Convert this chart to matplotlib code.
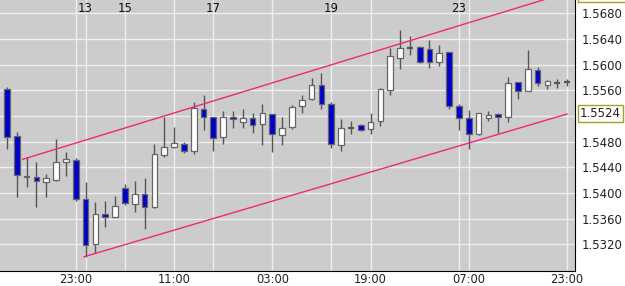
import matplotlib
matplotlib.use("Agg")
import matplotlib.pyplot as plt
from matplotlib.lines import Line2D
import numpy as np

opens = [1.55616, 1.54888, 1.54262, 1.54254, 1.54166, 1.54207, 1.54488, 1.54509, 1.53911, 1.53205,
         1.53668, 1.53621, 1.54082, 1.53828, 1.53984, 1.53786, 1.54597, 1.54717, 1.54763, 1.54659,
         1.55304, 1.55179, 1.54872, 1.55179, 1.55106, 1.55173, 1.55070, 1.55226, 1.54899, 1.55024,
         1.55355, 1.55460, 1.55683, 1.55382, 1.54748, 1.55017, 1.55055, 1.54992, 1.55122, 1.55605,
         1.56108, 1.56260, 1.56280, 1.56239, 1.56046, 1.56192, 1.55360, 1.55173, 1.54919, 1.55173,
         1.55226, 1.55189, 1.55725, 1.55589, 1.55916, 1.55683, 1.55719, 1.55725]
highs = [1.55644, 1.54955, 1.54556, 1.54483, 1.54296, 1.54837, 1.54643, 1.54540, 1.54166, 1.53855,
         1.53880, 1.53953, 1.54140, 1.54187, 1.54238, 1.54759, 1.55189, 1.55024, 1.54799, 1.55422,
         1.55522, 1.55184, 1.55278, 1.55278, 1.55304, 1.55242, 1.55387, 1.55231, 1.55179, 1.55371,
         1.55527, 1.55796, 1.55865, 1.55413, 1.55148, 1.55126, 1.55070, 1.55251, 1.55641, 1.56264,
         1.56540, 1.56446, 1.56290, 1.56384, 1.56306, 1.56202, 1.55387, 1.55293, 1.55251, 1.55282,
         1.55251, 1.55803, 1.55729, 1.56228, 1.55959, 1.55761, 1.55776, 1.55776]
lows = [1.54681, 1.53933, 1.54098, 1.53777, 1.53942, 1.54187, 1.54265, 1.53880, 1.53007, 1.53060,
        1.53465, 1.53620, 1.53808, 1.53704, 1.53443, 1.53771, 1.54561, 1.54706, 1.54628, 1.54607,
        1.54982, 1.54659, 1.54763, 1.55017, 1.55013, 1.54939, 1.54743, 1.54643, 1.54743, 1.54992,
        1.55251, 1.55449, 1.55313, 1.54696, 1.54659, 1.54919, 1.54966, 1.54914, 1.55048, 1.55527,
        1.55927, 1.56150, 1.56021, 1.55952, 1.55983, 1.55304, 1.54982, 1.54685, 1.54903, 1.55122,
        1.54930, 1.55111, 1.55465, 1.55584, 1.55672, 1.55620, 1.55641, 1.55672]
closes = [1.54868, 1.54276, 1.54246, 1.54187, 1.54229, 1.54483, 1.54525, 1.53906, 1.53185, 1.53668,
          1.53621, 1.53797, 1.53849, 1.53984, 1.53777, 1.54612, 1.54717, 1.54784, 1.54659, 1.55320,
          1.55179, 1.54861, 1.55189, 1.55153, 1.55173, 1.55059, 1.55242, 1.54919, 1.55008, 1.55335,
          1.55449, 1.55678, 1.55382, 1.54763, 1.55017, 1.55017, 1.54982, 1.55111, 1.55625, 1.56135,
          1.56255, 1.56260, 1.56046, 1.56046, 1.56177, 1.55360, 1.55173, 1.54919, 1.55242, 1.55211,
          1.55179, 1.55719, 1.55589, 1.55927, 1.55709, 1.55745, 1.55719, 1.55725]

bottom_tick_pos = [7, 17, 27, 37, 47, 57]
bottom_tick_labels = ["23:00", "11:00", "03:00", "19:00", "07:00", "23:00"]
top_tick_pos = [8, 12, 21, 33, 46]
top_tick_labels = ["13", "15", "17", "19", "23"]
price_ticks = [1.5320, 1.5360, 1.5400, 1.5440, 1.5480, 1.5520, 1.5560, 1.5600, 1.5640, 1.5680]
price_labels = ["1.5320", "1.5360", "1.5400", "1.5440", "1.5480", "", "1.5560", "1.5600", "1.5640", "1.5680"]
last_price = 1.5524

upper_x = [1.6, 57.0]
upper_y = [1.54525, 1.57122]
lower_x = [7.84, 57.0]
lower_y = [1.53007, 1.55231]

fig = plt.figure(figsize=(6.25, 2.86), dpi=100)
ax = fig.add_axes([0, 15/286, 575/625, 271/286])
ax.set_facecolor("#cccccc")

n = len(opens)
x = np.arange(n)
ax.set_xlim(-0.712, 57.81)
ax.set_ylim(1.52785, 1.57007)

# grid
for p in price_ticks:
    ax.axhline(p, color="#eeeeee", lw=1.0, zorder=1)
for t in bottom_tick_pos + top_tick_pos:
    ax.axvline(t, color="#eeeeee", lw=1.0, zorder=1)

# candles
w = 0.58
for i in range(n):
    o, h, l, c = opens[i], highs[i], lows[i], closes[i]
    ax.vlines(x[i], l, h, color="#555555", lw=1.0, zorder=2)
    lo, hi = min(o, c), max(o, c)
    face = "#0000cc" if c < o else "#ffffff"
    if hi - lo < 0.00003:
        ax.hlines((o + c) / 2, x[i] - w / 2, x[i] + w / 2, color="#555555", lw=1.6, zorder=3)
    else:
        ax.bar(x[i], hi - lo, bottom=lo, width=w, color=face, edgecolor="#666666", lw=0.9, zorder=3)

# trend lines
ax.plot(upper_x, upper_y, color="#f0287d", lw=1.0, zorder=4)
ax.plot(lower_x, lower_y, color="#f0287d", lw=1.0, zorder=4)

# axes styling
for s in ["top", "left"]:
    ax.spines[s].set_visible(False)
ax.spines["right"].set_color("black")
ax.spines["bottom"].set_color("black")
ax.yaxis.tick_right()
ax.set_yticks(price_ticks)
ax.set_yticklabels(price_labels)
ax.set_xticks(bottom_tick_pos)
ax.set_xticklabels(bottom_tick_labels)
ax.tick_params(axis="y", length=0, pad=5, labelsize=8.5, colors="#222222")
ax.tick_params(axis="x", length=0, pad=1.5, labelsize=8.3, colors="#222222")

for t, lab in zip(top_tick_pos, top_tick_labels):
    ax.text(t, 1 - 8/271, lab, transform=ax.get_xaxis_transform(), ha="center", va="center",
            fontsize=8.5, color="#111111", zorder=5)

ax.text(1.0 + 5/575, last_price, f"{last_price:.4f}", transform=ax.get_yaxis_transform(),
        ha="left", va="center", fontsize=8.5, color="#222222",
        bbox=dict(boxstyle="square,pad=0.15", fc="white", ec="#a8a020", lw=1.0))

fig.add_artist(Line2D([578/625, 1.0], [1 - 1.5/286, 1 - 1.5/286], color="#a8a020", lw=1.0))
fig.add_artist(Line2D([578/625, 578/625], [1 - 1.5/286, 1.0], color="#a8a020", lw=1.0))

fig.savefig("out.png", dpi=100, facecolor="white")
